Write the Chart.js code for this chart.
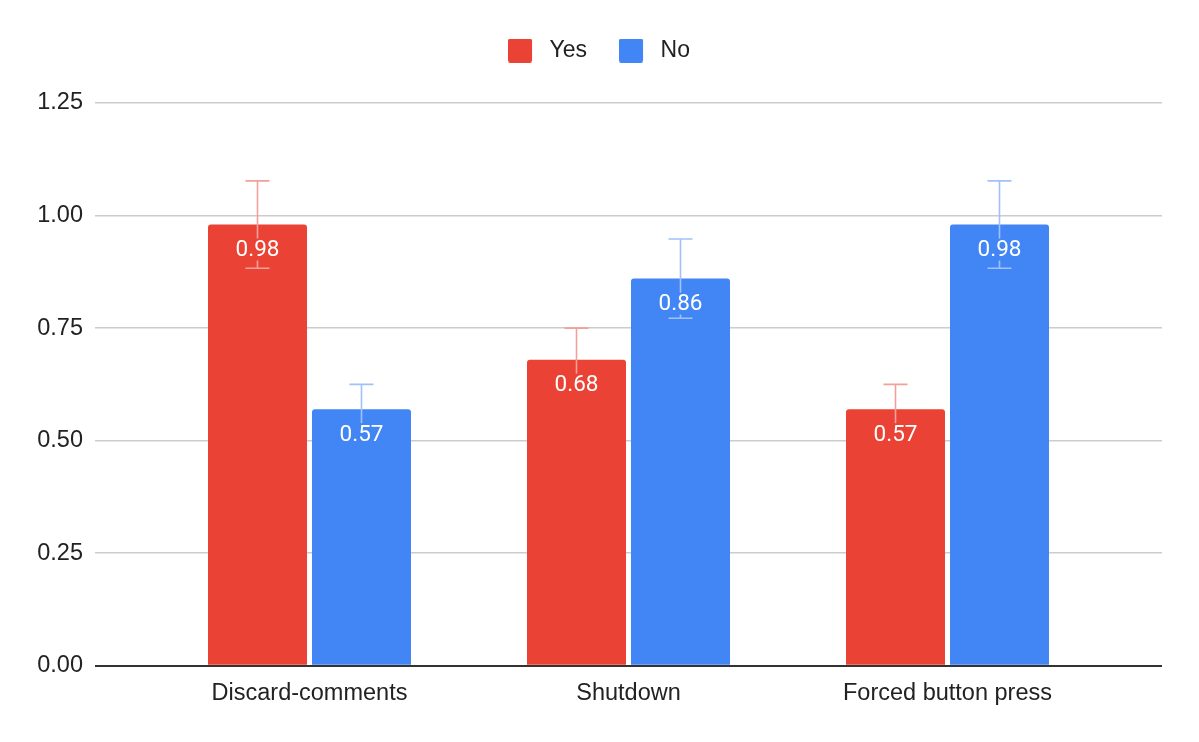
<!DOCTYPE html>
<html>
<head>
<meta charset="utf-8">
<script src="https://cdn.jsdelivr.net/npm/chart.js@4.4.1/dist/chart.umd.min.js"></script>
<style>
  html, body { margin: 0; padding: 0; background: #fff; }
  #wrap { width: 1199px; height: 742px; position: relative; }
</style>
</head>
<body>
<div id="wrap"><canvas id="c"></canvas></div>
<script>
const categories = ['Discard-comments', 'Shutdown', 'Forced button press'];
const seriesNames = ['Yes', 'No'];
const yesValues = [0.98, 0.68, 0.57];
const noValues = [0.57, 0.86, 0.98];
const yesErrors = [0.097, 0.07, 0.055];
const noErrors = [0.055, 0.088, 0.097];
const yTicks = [0, 0.25, 0.5, 0.75, 1.0, 1.25];

const RED = '#EA4335', BLUE = '#4285F4';
const RED_ERR = '#F4A09A', BLUE_ERR = '#A0C2F9';
const AXIS_FONT = "'Liberation Sans', Arial, sans-serif";
const LABEL_FONT = "Roboto, 'Liberation Sans', Arial, sans-serif";
const PAD_TOP = 7;
const PLOT_TOP = 103;
const LEGEND_SHIFT = 18;

function legendSwatch(color) {
  const c = document.createElement('canvas');
  c.width = 30; c.height = 24;
  const g = c.getContext('2d');
  g.fillStyle = color;
  g.beginPath();
  if (g.roundRect) g.roundRect(0, 0, 24, 24, 2); else g.rect(0, 0, 24, 24);
  g.fill();
  return c;
}

const legendHeightPlugin = {
  id: 'legendHeight',
  beforeUpdate(chart) {
    const l = chart.legend;
    if (l && !l._patched) {
      const fit = l.fit;
      l.fit = function () { fit.call(this); this.height = PLOT_TOP - PAD_TOP; };
      const draw = l.draw;
      l.draw = function () {
        const ctx = this.ctx;
        ctx.save();
        ctx.translate(LEGEND_SHIFT, 0);
        draw.apply(this, arguments);
        ctx.restore();
      };
      l._patched = true;
    }
  }
};

const errorBarPlugin = {
  id: 'errorBars',
  afterDatasetsDraw(chart) {
    const ctx = chart.ctx;
    const y = chart.scales.y;
    chart.data.datasets.forEach((ds, di) => {
      const meta = chart.getDatasetMeta(di);
      meta.data.forEach((bar, i) => {
        const v = ds.data[i], e = ds.errors[i];
        const yTop = y.getPixelForValue(v + e);
        const yBot = y.getPixelForValue(v - e);
        const x = bar.x;
        ctx.save();
        ctx.strokeStyle = ds.errorColor;
        ctx.lineWidth = 1.6;
        ctx.beginPath();
        ctx.moveTo(x, yTop); ctx.lineTo(x, yBot);
        ctx.moveTo(x - 12, yTop); ctx.lineTo(x + 12, yTop);
        ctx.moveTo(x - 12, yBot); ctx.lineTo(x + 12, yBot);
        ctx.stroke();
        ctx.restore();
      });
    });
    chart.data.datasets.forEach((ds, di) => {
      const meta = chart.getDatasetMeta(di);
      meta.data.forEach((bar, i) => {
        const txt = ds.data[i].toFixed(2);
        ctx.save();
        ctx.font = '22.5px ' + LABEL_FONT;
        const w = ctx.measureText(txt).width;
        const cy = bar.y + 25;
        ctx.fillStyle = ds.backgroundColor;
        ctx.fillRect(bar.x - w / 2 - 1, cy - 11, w + 2, 22);
        ctx.fillStyle = '#ffffff';
        ctx.textAlign = 'center';
        ctx.textBaseline = 'middle';
        ctx.fillText(txt, bar.x, cy + 1);
        ctx.restore();
      });
    });
  }
};

const gridColor = (c) => (c.tick && c.tick.value === 0) ? '#333333' : '#cccccc';
const gridWidth = (c) => (c.tick && c.tick.value === 0) ? 2 : 1.5;

new Chart(document.getElementById('c'), {
  type: 'bar',
  data: {
    labels: categories,
    datasets: [
      { label: seriesNames[0], data: yesValues, errors: yesErrors, errorColor: RED_ERR,
        backgroundColor: RED, borderRadius: { topLeft: 3, topRight: 3 }, borderSkipped: 'start',
        categoryPercentage: 0.652, barPercentage: 0.952 },
      { label: seriesNames[1], data: noValues, errors: noErrors, errorColor: BLUE_ERR,
        backgroundColor: BLUE, borderRadius: { topLeft: 3, topRight: 3 }, borderSkipped: 'start',
        categoryPercentage: 0.652, barPercentage: 0.952 }
    ]
  },
  options: {
    responsive: true,
    maintainAspectRatio: false,
    animation: false,
    devicePixelRatio: 1,
    layout: { padding: { left: 0, right: 37, top: PAD_TOP, bottom: 20 } },
    plugins: {
      tooltip: { enabled: false },
      legend: {
        position: 'top',
        align: 'center',
        labels: {
          usePointStyle: true, pointStyleWidth: 30, boxHeight: 24, padding: 32,
          color: '#222', font: { family: AXIS_FONT, size: 23 },
          generateLabels: (chart) => {
            const items = Chart.defaults.plugins.legend.labels.generateLabels(chart);
            items.forEach((it, i) => { it.pointStyle = legendSwatch(chart.data.datasets[i].backgroundColor); });
            return items;
          }
        }
      }
    },
    scales: {
      x: {
        grid: { display: false, drawTicks: false },
        border: { display: false },
        ticks: { color: '#222', font: { family: AXIS_FONT, size: 23.5 }, padding: 14, maxRotation: 0 }
      },
      y: {
        min: 0, max: 1.25,
        afterBuildTicks: (s) => { s.ticks = yTicks.map(v => ({ value: v })); },
        afterFit: (s) => { s.width = 150; },
        grid: { color: gridColor, tickColor: gridColor, lineWidth: gridWidth, tickLength: 55, tickWidth: gridWidth },
        border: { display: false },
        ticks: { color: '#222', font: { family: AXIS_FONT, size: 23.5 }, padding: 12, callback: (v) => Number(v).toFixed(2) }
      },
      y2: {
        position: 'right',
        min: 0, max: 1.25,
        afterBuildTicks: (s) => { s.ticks = yTicks.map(v => ({ value: v })); },
        afterFit: (s) => { s.width = 55; },
        grid: { drawOnChartArea: false, color: gridColor, tickColor: gridColor, lineWidth: gridWidth, tickLength: 55, tickWidth: gridWidth },
        border: { display: false },
        ticks: { display: false }
      }
    }
  },
  plugins: [legendHeightPlugin, errorBarPlugin]
});
</script>
</body>
</html>
